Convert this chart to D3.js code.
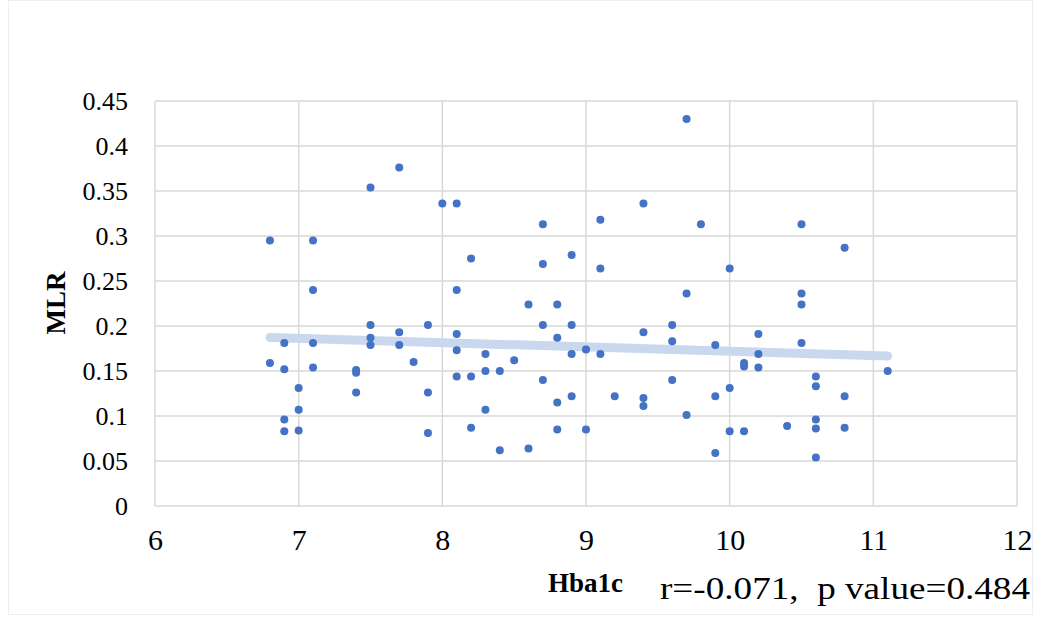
<!DOCTYPE html>
<html>
<head>
<meta charset="utf-8">
<script src="https://cdn.jsdelivr.net/npm/d3@7"></script>
<style>
  body { margin: 0; background: #fff; }
  svg { display: block; }
</style>
</head>
<body>
<div id="chart"></div>
<script>
// Hba1c (x) vs MLR (y)
var hba1c = [
  6.8, 6.8,
  6.9, 6.9, 6.9, 6.9,
  7.0, 7.0, 7.0,
  7.1, 7.1, 7.1, 7.1,
  7.4, 7.4, 7.4,
  7.5, 7.5, 7.5, 7.5,
  7.7, 7.7, 7.7,
  7.8,
  7.9, 7.9, 7.9,
  8.0,
  8.1, 8.1, 8.1, 8.1, 8.1,
  8.2, 8.2, 8.2,
  8.3, 8.3, 8.3,
  8.4, 8.4,
  8.5,
  8.6, 8.6,
  8.7, 8.7, 8.7, 8.7,
  8.8, 8.8, 8.8, 8.8,
  8.9, 8.9, 8.9, 8.9,
  9.0, 9.0,
  9.1, 9.1, 9.1,
  9.2,
  9.4, 9.4, 9.4, 9.4,
  9.6, 9.6, 9.6,
  9.7, 9.7, 9.7,
  9.8,
  9.9, 9.9, 9.9,
  10.0, 10.0, 10.0,
  10.1, 10.1, 10.1,
  10.2, 10.2, 10.2,
  10.4,
  10.5, 10.5, 10.5, 10.5,
  10.6, 10.6, 10.6, 10.6, 10.6,
  10.8, 10.8, 10.8,
  11.1
];
var mlr = [
  0.295, 0.159,
  0.181, 0.152, 0.096, 0.083,
  0.131, 0.107, 0.084,
  0.295, 0.240, 0.181, 0.154,
  0.151, 0.148, 0.126,
  0.354, 0.201, 0.187, 0.179,
  0.376, 0.193, 0.179,
  0.160,
  0.201, 0.126, 0.081,
  0.336,
  0.336, 0.240, 0.191, 0.173, 0.144,
  0.275, 0.144, 0.087,
  0.169, 0.150, 0.107,
  0.150, 0.062,
  0.162,
  0.224, 0.064,
  0.313, 0.269, 0.201, 0.140,
  0.224, 0.187, 0.115, 0.085,
  0.279, 0.201, 0.169, 0.122,
  0.174, 0.085,
  0.318, 0.264, 0.169,
  0.122,
  0.336, 0.193, 0.120, 0.111,
  0.201, 0.183, 0.140,
  0.430, 0.236, 0.101,
  0.313,
  0.179, 0.122, 0.059,
  0.264, 0.131, 0.083,
  0.159, 0.155, 0.083,
  0.191, 0.169, 0.154,
  0.089,
  0.313, 0.236, 0.224, 0.181,
  0.144, 0.133, 0.096, 0.086, 0.054,
  0.287, 0.122, 0.087,
  0.150
];
var xTicks = [6, 7, 8, 9, 10, 11, 12];
var yTicks = [0, 0.05, 0.1, 0.15, 0.2, 0.25, 0.3, 0.35, 0.4, 0.45];
var xTitle = 'Hba1c';
var yTitle = 'MLR';
var statText = 'r=-0.071,  p value=0.484';

(function() {
  var W = 1040, H = 621;
  var pLeft = 155, pRight = 1017, pTop = 101, pBottom = 506;
  var serif = '"Liberation Serif", "Times New Roman", serif';

  var svg = d3.select('#chart').append('svg')
    .attr('width', W)
    .attr('height', H);

  // faint outer frame
  svg.append('rect')
    .attr('x', 8.5).attr('y', 0.5)
    .attr('width', 1024).attr('height', 614)
    .attr('fill', '#fff')
    .attr('stroke', '#eeeeee');

  var x = d3.scaleLinear().domain([6, 12]).range([pLeft, pRight]);
  var y = d3.scaleLinear().domain([0, 0.45]).range([pBottom, pTop]);

  // gridlines
  svg.append('g')
    .selectAll('line')
    .data(yTicks)
    .enter()
    .append('line')
    .attr('x1', pLeft).attr('x2', pRight)
    .attr('y1', function(d) { return y(d); })
    .attr('y2', function(d) { return y(d); })
    .attr('stroke', '#d9d9d9')
    .attr('stroke-width', 1.5);

  svg.append('g')
    .selectAll('line')
    .data(xTicks)
    .enter()
    .append('line')
    .attr('y1', pTop).attr('y2', pBottom)
    .attr('x1', function(d) { return x(d); })
    .attr('x2', function(d) { return x(d); })
    .attr('stroke', '#d9d9d9')
    .attr('stroke-width', 1.5);

  // axes (labels only)
  var yAxis = svg.append('g')
    .attr('transform', 'translate(' + pLeft + ',0)')
    .call(d3.axisLeft(y).tickValues(yTicks).tickSize(0).tickPadding(27)
      .tickFormat(function(d) { return String(+d.toFixed(2)); }));
  yAxis.select('.domain').remove();
  yAxis.selectAll('text')
    .attr('font-family', serif)
    .attr('font-size', 26)
    .attr('fill', '#000');

  var xAxis = svg.append('g')
    .attr('transform', 'translate(0,' + pBottom + ')')
    .call(d3.axisBottom(x).tickValues(xTicks).tickSize(0).tickPadding(23)
      .tickFormat(d3.format('d')));
  xAxis.select('.domain').remove();
  xAxis.selectAll('text')
    .attr('font-family', serif)
    .attr('font-size', 30)
    .attr('fill', '#000');

  // linear trendline, least squares over the points
  var n = hba1c.length;
  var mx = d3.mean(hba1c), my = d3.mean(mlr);
  var sxy = 0, sxx = 0;
  for (var i = 0; i < n; i++) {
    sxy += (hba1c[i] - mx) * (mlr[i] - my);
    sxx += (hba1c[i] - mx) * (hba1c[i] - mx);
  }
  var slope = sxy / sxx;
  var icpt = my - slope * mx;
  var ext = d3.extent(hba1c);

  svg.append('line')
    .attr('x1', x(ext[0])).attr('y1', y(icpt + slope * ext[0]))
    .attr('x2', x(ext[1])).attr('y2', y(icpt + slope * ext[1]))
    .attr('stroke', '#c9d8ef')
    .attr('stroke-width', 9)
    .attr('stroke-linecap', 'round');

  // points
  svg.append('g')
    .selectAll('circle')
    .data(d3.range(n))
    .enter()
    .append('circle')
    .attr('cx', function(i) { return x(hba1c[i]); })
    .attr('cy', function(i) { return y(mlr[i]); })
    .attr('r', 4)
    .attr('fill', '#4472c4');

  // titles
  svg.append('text')
    .attr('transform', 'translate(65,303) rotate(-90)')
    .attr('text-anchor', 'middle')
    .attr('font-family', serif)
    .attr('font-weight', 'bold')
    .attr('font-size', 27)
    .text(yTitle);

  svg.append('text')
    .attr('x', 548).attr('y', 592)
    .attr('font-family', serif)
    .attr('font-weight', 'bold')
    .attr('font-size', 27)
    .text(xTitle);

  svg.append('text')
    .attr('x', 660).attr('y', 599)
    .attr('font-family', serif)
    .attr('font-size', 32)
    .style('white-space', 'pre')
    .attr('textLength', 370)
    .attr('lengthAdjust', 'spacingAndGlyphs')
    .text(statText);
})();
</script>
</body>
</html>
